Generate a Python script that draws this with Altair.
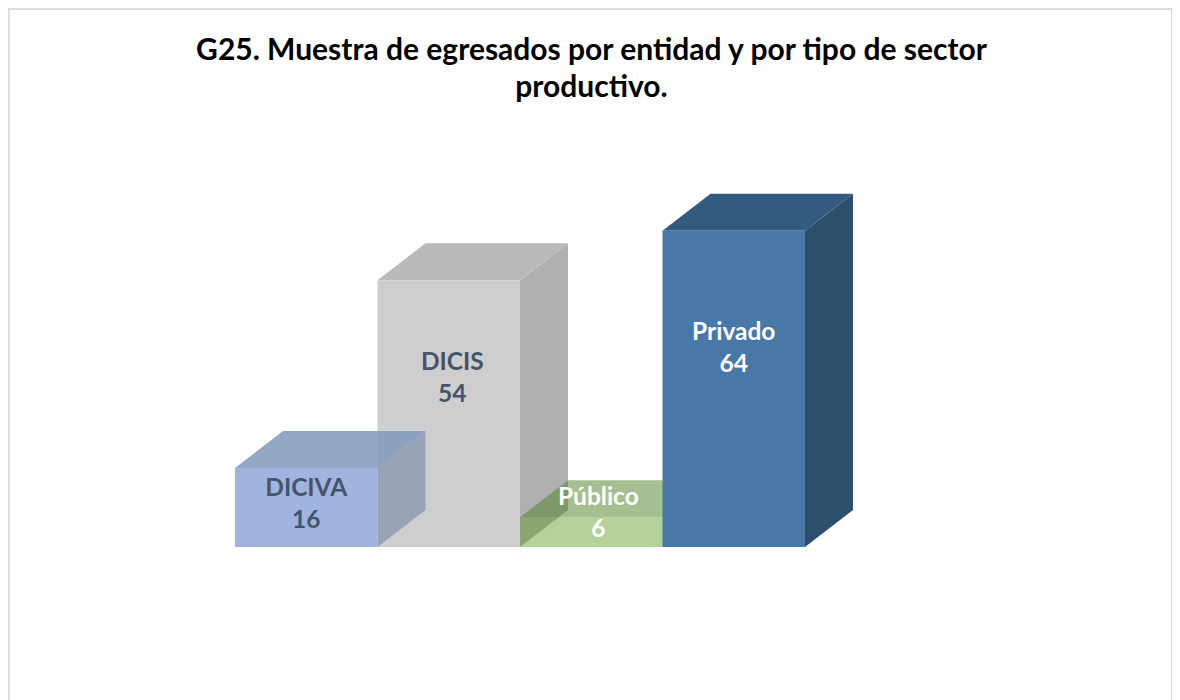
import altair as alt
import pandas as pd

# Chart values
names = ["DICIS", "DICIVA", "Público", "Privado"]   # drawing order, back to front
values = [54, 16, 6, 64]
slots = [1, 0, 2, 3]                                # position along the floor
title_lines = ["G25. Muestra de egresados por entidad y por tipo de sector", "productivo."]

# Styling
front_colors = ["#CECECE", "#A0B4DF", "#5E9D28", "#4878A8"]
top_colors = ["#BABABA", "#8099BC", "#508125", "#355A80"]
side_colors = ["#B0B0B0", "#98A3B6", "#508125", "#2D4F6E"]
front_alpha = [1, 1, 0.46, 1]
top_alpha = [1, 0.85, 0.51, 1]
side_alpha = [1, 1, 0.5, 1]
label_colors = ["#44546A", "#44546A", "#FFFFFF", "#FFFFFF"]
label_heights = [37.2, 11.74, 9.9, 43.3]
label_shifts = [0.025, 0.0, 0.05, 0.0]

W, H = 1164, 692
DX, DY = 0.337, 7.5   # depth of the 3D extrusion, in data units
x_scale = alt.Scale(domain=[-227 / 142.5, (W - 227) / 142.5], range=[0, W], nice=False, zero=False)
y_scale = alt.Scale(domain=[-(H - 539) / 4.94, 539 / 4.94], range=[H, 0], nice=False, zero=False)
X = alt.X("x:Q", scale=x_scale, axis=None)
Y = alt.Y("lo:Q", scale=y_scale, axis=None)
Y2 = alt.Y2("hi:Q")

layers = []
for i, (s, v) in enumerate(zip(slots, values)):
    side = pd.DataFrame({"x": [s + 1, s + 1 + DX], "lo": [0, DY], "hi": [v, v + DY]})
    top = pd.DataFrame({
        "x": [s, s + DX, s + 1, s + 1 + DX],
        "lo": [v, v, v, v + DY],
        "hi": [v, v + DY, v + DY, v + DY],
    })
    front = pd.DataFrame({"x": [s], "x2": [s + 1], "lo": [0], "hi": [v]})
    layers.append(alt.Chart(side).mark_area(color=side_colors[i], opacity=side_alpha[i], strokeWidth=0)
                  .encode(x=X, y=Y, y2=Y2))
    layers.append(alt.Chart(top).mark_area(color=top_colors[i], opacity=top_alpha[i], strokeWidth=0)
                  .encode(x=X, y=Y, y2=Y2))
    layers.append(alt.Chart(front).mark_rect(color=front_colors[i], opacity=front_alpha[i], strokeWidth=0)
                  .encode(x=X, x2=alt.X2("x2:Q"), y=Y, y2=Y2))

labels = pd.DataFrame({
    "x": [s + 0.5 + d for s, d in zip(slots, label_shifts)],
    "lo": label_heights,
    "label": [f"{n}\n{v}" for n, v in zip(names, values)],
    "c": label_colors,
})
layers.append(
    alt.Chart(labels)
    .mark_text(font="Lato", fontWeight="bold", fontSize=24.5, lineBreak="\n", lineHeight=32,
               align="center", baseline="middle")
    .encode(x=X, y=Y, text="label:N", color=alt.Color("c:N", scale=None))
)

# Thin frame of the chart area
frame = pd.DataFrame({"a": [0]})
border = "#DDDDDD"
layers.append(alt.Chart(frame).mark_rule(color=border, strokeWidth=2)
              .encode(x=alt.value(1), y=alt.value(0), y2=alt.value(H)))
layers.append(alt.Chart(frame).mark_rule(color=border, strokeWidth=2)
              .encode(x=alt.value(0), x2=alt.value(W), y=alt.value(1)))
layers.append(alt.Chart(frame).mark_rule(color=border, strokeWidth=1)
              .encode(x=alt.value(W - 0.5), y=alt.value(0), y2=alt.value(H)))

chart = (
    alt.layer(*layers)
    .properties(
        width=W, height=H,
        padding=0,
        autosize=alt.AutoSizeParams(type="none"),
        background="white",
        title=alt.TitleParams(
            text=title_lines, anchor="middle", frame="group", offset=-96,
            font="Lato", fontWeight="bold", fontSize=30, color="#000000",
            lineHeight=37, dx=1.5,
        ),
    )
    .configure_view(stroke=None)
)

chart.save("out.html", embed_options={"renderer": "svg", "actions": False})
